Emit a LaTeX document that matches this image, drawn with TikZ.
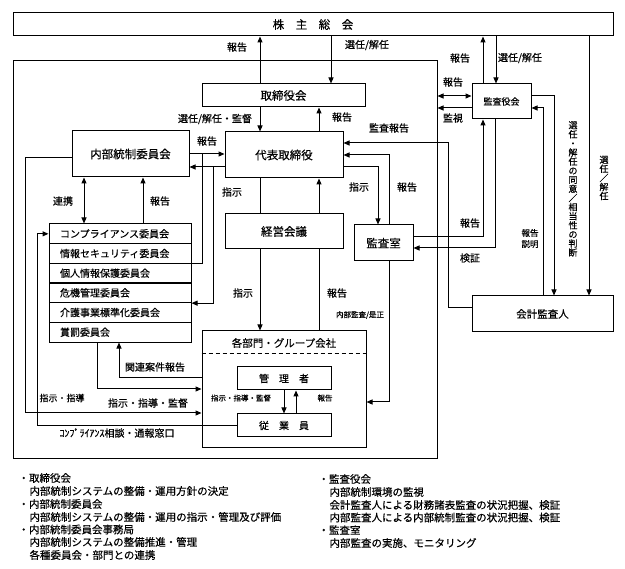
\documentclass[tikz,border=0pt]{standalone}
\usepackage{fontspec}
\setmainfont[FakeBold=0.4]{Noto Sans CJK JP}
\usetikzlibrary{arrows.meta}
\begin{document}
\begin{tikzpicture}[x=1pt,y=-1pt, line width=1pt,
  box/.style={draw, line width=1pt, inner sep=0pt, font=\fontsize{11.5}{12}\selectfont},
  crow/.style={draw, line width=1pt, minimum height=19.67pt, text width=120pt, inner xsep=11pt, inner ysep=0pt, align=left, font=\fontsize{10}{11}\selectfont},
  arr/.style={-{Triangle[length=6pt,width=5pt]}},
  dbl/.style={{Triangle[length=6pt,width=5pt]}-{Triangle[length=6pt,width=5pt]}},
  lab/.style={font=\fontsize{10}{11}\selectfont, inner sep=0pt},
  sm/.style={font=\fontsize{7.5}{8}\selectfont, inner sep=0pt},
  leg/.style={font=\fontsize{10.5}{12}\selectfont, inner sep=0pt, anchor=west},
  vlab/.style={font=\fontsize{9}{9.1}\selectfont, inner sep=0pt, align=center},
]
\useasboundingbox (0,0) rectangle (625,569);

% boxes
\node[box, minimum width=600pt, minimum height=23pt] (sh) at (313,24.5) {株　主　総　会};
\node[draw, line width=1pt, minimum width=424pt, minimum height=398pt, inner sep=0pt] (outer) at (225,260) {};
\node[box, minimum width=163pt, minimum height=23pt] (tb) at (283.5,95.5) {取締役会};
\node[box, minimum width=118pt, minimum height=46pt] (rep) at (284,155) {代表取締役};
\node[box, minimum width=117pt, minimum height=46pt] (ic) at (130.5,154) {内部統制委員会};
\node[box, minimum width=118pt, minimum height=35pt] (kk) at (284,231.5) {経営会議};
\node[box, minimum width=59pt, minimum height=36pt] (ka) at (383.5,243) {監査室};
\node[box, minimum width=59pt, minimum height=35pt, font=\fontsize{9}{10}\selectfont] (kys) at (501.5,101.5) {監査役会};
\node[box, minimum width=141pt, minimum height=36pt, font=\fontsize{10.5}{11}\selectfont] (kai) at (542.5,314) {会計監査人};

\node[crow] (c1) at (120,233.83) {コンプライアンス委員会};
\node[crow] (c2) at (120,253.5) {情報セキュリティ委員会};
\node[crow] (c3) at (120,273.17) {個人情報保護委員会};
\node[crow] (c4) at (120,292.83) {危機管理委員会};
\node[crow] (c5) at (120,312.5) {介護事業標準化委員会};
\node[crow] (c6) at (120,332.17) {賞罰委員会};

\node[draw, line width=1pt, minimum width=164pt, minimum height=117pt, inner sep=0pt] (bu) at (284,389.5) {};
\node[lab, font=\fontsize{10.5}{11}\selectfont] (butitle) at (284,343) {各部門・グループ会社};
\draw[dashed, dash pattern=on 4pt off 3pt] (bu.west |- 0,354) -- (bu.east |- 0,354);
\node[box, minimum width=94pt, minimum height=23pt, font=\fontsize{10}{11}\selectfont] (mgr) at (284,378.5) {管　理　者};
\node[box, minimum width=94pt, minimum height=23pt, font=\fontsize{10}{11}\selectfont] (emp) at (284,425.5) {従　業　員};

% shareholders connections
\draw[arr] (260,0 |- tb.north) -- (260,0 |- sh.south);
\draw[arr] (331,0 |- sh.south) -- (331,0 |- tb.north);
\draw[arr] (260,0 |- tb.south) -- (260,0 |- rep.north);
\draw[arr] (319,0 |- rep.north) -- (319,0 |- tb.south);

% internal control committee <-> representative
\draw[arr] (ic.east |- 0,154) -- (rep.west |- 0,154);
\draw[arr] (rep.west |- 0,167) -- (ic.east |- 0,167);
\coordinate (j1) at (202,154);
\coordinate (j2) at (213,167);
\draw (j1) -- (j1 |- c2.south) -- (c2.south east);
\draw[arr] (j2) -- (j2 |- c4.south) -- (c4.south east);
\draw[dbl] (84,0 |- ic.south) -- (84,0 |- c1.north);
\draw[arr] (143,0 |- c1.north) -- (143,0 |- ic.south);

% left loops
\draw[arr] (ic.west |- 0,158) -- (25,158) -- (25,413) -- (bu.west |- 0,413);
\draw[arr] (emp.west) -- (37,0 |- emp.west) -- (37,0 |- c1.west) -- (c1.west);
\draw[arr] (97,0 |- c6.south) -- (97,389) -- (bu.west |- 0,389);
\draw[arr] (bu.west |- 0,378) -- (119,378) -- (119,0 |- c6.south);

% management meeting
\draw (260,0 |- rep.south) -- (260,0 |- kk.north);
\draw[arr] (260,0 |- kk.south) -- (260,0 |- bu.north);
\draw (319,0 |- bu.north) -- (319,0 |- kk.south);
\draw[arr] (319,0 |- kk.north) -- (319,0 |- rep.south);

% audit office
\draw[arr] (rep.east |- 0,167) -- (378,167) -- (378,0 |- ka.north);
\draw[arr] (389,0 |- ka.north) -- (389,155) -- (rep.east |- 0,155);
\draw[arr] (kai.west |- 0,308) -- (448,308) -- (448,143) -- (rep.east |- 0,143);
\draw[arr] (ka.east |- 0,237) -- (483,237) -- (483,0 |- kys.south);
\draw[arr] (495,0 |- kys.south) -- (495,248) -- (ka.east |- 0,248);
\draw[arr] (389,0 |- ka.south) -- (389,402) -- (bu.east |- 0,402);

% auditors
\draw[arr] (483,0 |- kys.north) -- (483,0 |- sh.south);
\draw[arr] (496,0 |- sh.south) -- (496,0 |- kys.north);
\draw[dbl] (outer.east |- 0,96) -- (kys.west |- 0,96);
\draw[arr] (kys.west |- 0,108) -- (outer.east |- 0,108);
\draw[arr] (kys.east |- 0,96) -- (554,96) -- (554,0 |- kai.north);
\draw[arr] (543,0 |- kai.north) -- (543,108) -- (kys.east |- 0,108);
\draw[arr] (589,0 |- sh.south) -- (589,0 |- kai.north);

% manager / employee
\draw[arr] (284,0 |- mgr.south) -- (284,0 |- emp.north);
\draw[arr] (296,0 |- emp.north) -- (296,0 |- mgr.south);

% labels
\node[lab] (l1) at (237,47) {報告};
\node[lab] (l2) at (367,45) {選任/解任};
\node[lab] (l3) at (215,119) {選任/解任・監督};
\node[lab] (l4) at (342,117) {報告};
\node[lab] (l5) at (207,141) {報告};
\node[lab] (l6) at (389,128) {監査報告};
\node[lab] (l7) at (232,192) {指示};
\node[lab] (l8) at (359,187) {指示};
\node[lab] (l9) at (407,187) {報告};
\node[lab] (l10) at (63,201) {連携};
\node[lab] (l11) at (160,201) {報告};
\node[lab] (l12) at (470,223) {報告};
\node[lab] (l13) at (470,258) {検証};
\node[lab] (l14) at (243,293) {指示};
\node[lab] (l15) at (337,293) {報告};
\node[sm] (l16) at (360,315) {内部監査/是正};
\node[lab] (l17) at (155,367) {関連案件報告};
\node[lab, font=\fontsize{9}{10}\selectfont] (l18) at (62,398) {指示・指導};
\node[lab] (l19) at (148,403) {指示・指導・監督};
\node[sm] (l20) at (241,398) {指示・指導・監督};
\node[sm] (l21) at (325,398) {報告};
\node[lab] (l22) at (117,433) {ｺﾝﾌﾟﾗｲｱﾝｽ相談・通報窓口};
\node[lab] (l23) at (460,58) {報告};
\node[lab] (l24) at (520,58) {選任/解任};
\node[lab] (l25) at (453,82) {報告};
\node[lab] (l26) at (453,118) {監視};
\node[lab, font=\fontsize{8.5}{11}\selectfont, align=center] (l27) at (530,238.5) {報告\\説明};
\node[vlab] (l28) at (573,189) {選\\任\\・\\解\\任\\の\\同\\意\\／\\相\\当\\性\\の\\判\\断};
\node[vlab] (l29) at (604,178) {選\\任\\／\\解\\任};

% legend
\node[leg] (g1) at (18,478) {・取締役会};
\node[leg] (g2) at (29,491) {内部統制システムの整備・運用方針の決定};
\node[leg] (g3) at (18,504) {・内部統制委員会};
\node[leg] (g4) at (29,517) {内部統制システムの整備・運用の指示・管理及び評価};
\node[leg] (g5) at (18,529.5) {・内部統制委員会事務局};
\node[leg] (g6) at (29,542) {内部統制システムの整備推進・管理};
\node[leg] (g7) at (29,555) {各種委員会・部門との連携};
\node[leg] (h1) at (318,479) {・監査役会};
\node[leg] (h2) at (329,492) {内部統制環境の監視};
\node[leg] (h3) at (329,505) {会計監査人による財務諸表監査の状況把握、検証};
\node[leg] (h4) at (329,517.5) {内部監査人による内部統制監査の状況把握、検証};
\node[leg] (h5) at (318,530) {・監査室};
\node[leg] (h6) at (329,543) {内部監査の実施、モニタリング};
\end{tikzpicture}
\end{document}
